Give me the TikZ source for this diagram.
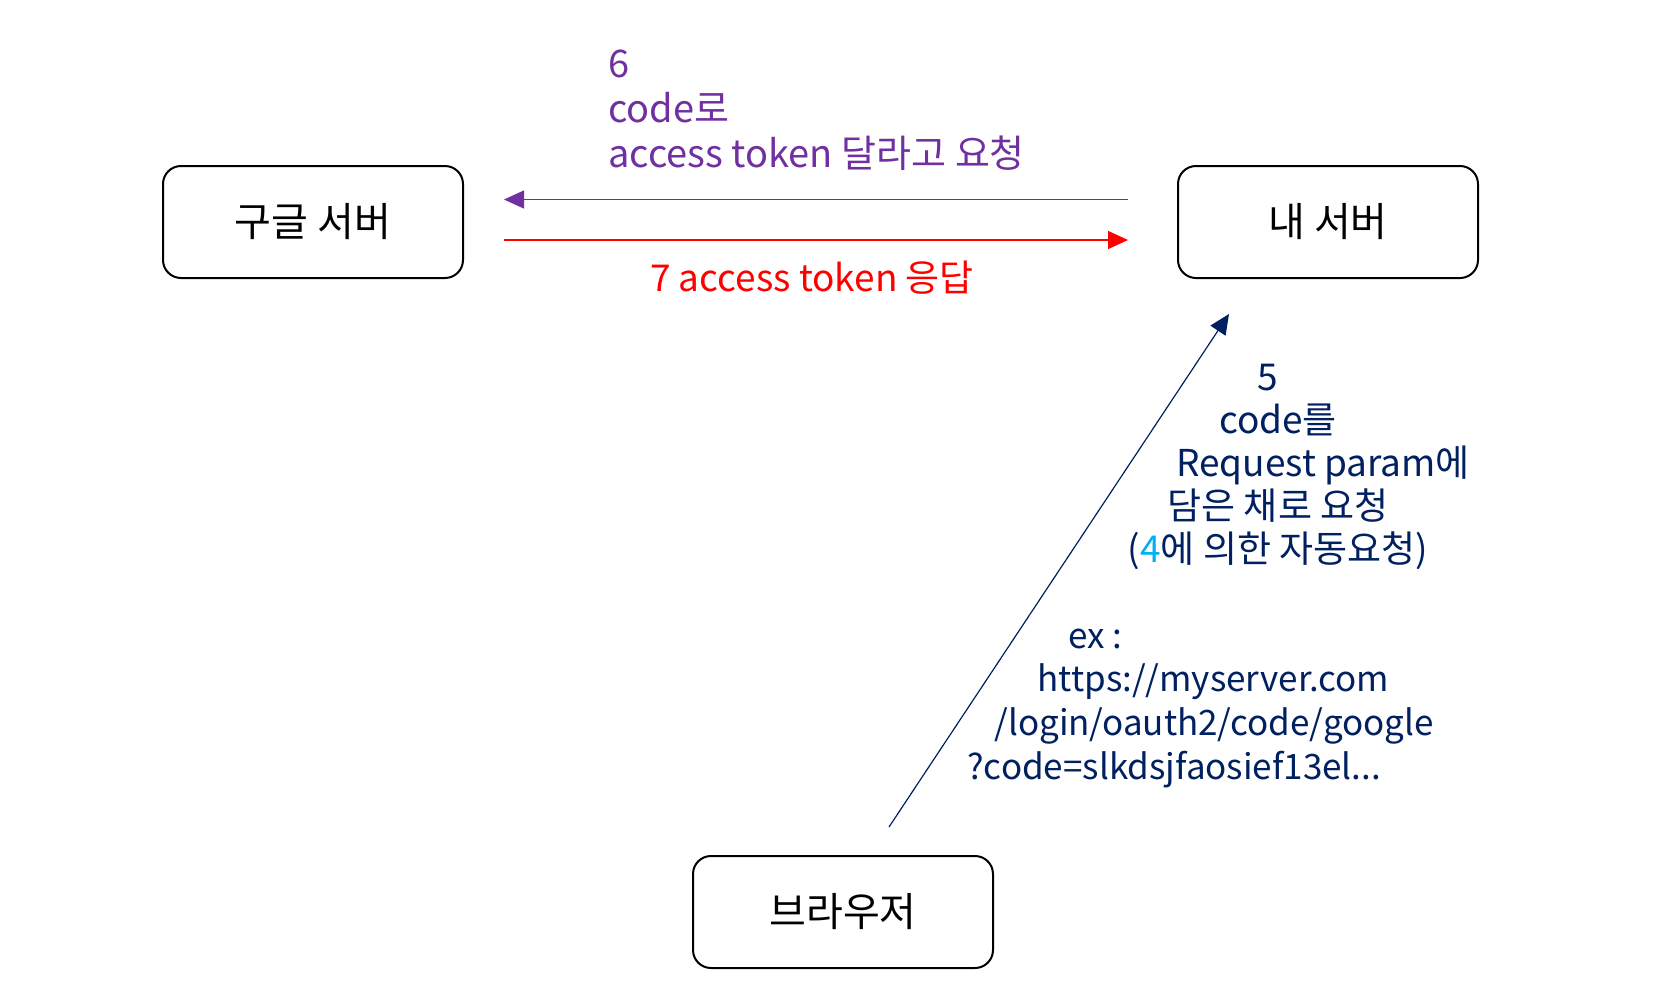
\documentclass[tikz,border=0pt]{standalone}
\usepackage{fontspec}
\setmainfont{Noto Sans CJK KR}
\usetikzlibrary{arrows.meta,positioning}
\definecolor{reqpurple}{HTML}{7030A0}
\definecolor{resred}{HTML}{FF0000}
\definecolor{navy}{HTML}{002060}
\definecolor{skyblue}{HTML}{00B0F0}
\tikzstyle{serverbox}=[rectangle,draw,rounded corners=9pt,line width=1pt,minimum width=150pt,minimum height=56pt,font=\fontsize{20}{24}\selectfont]
\tikzstyle{flowarrow}=[line width=0.6pt,-{Triangle[length=10pt,width=9pt]}]
\tikzstyle{steplabel}=[font=\fontsize{18.5}{21.5}\selectfont,inner sep=0]
\newcommand{\servernode}[3]{\node[serverbox] (#1) at (#2) {#3};}

\begin{document}
\begin{tikzpicture}[x=0.5pt,y=-0.5pt]
\useasboundingbox (0,0) rectangle (1667,1003);
\servernode{google}{313,222}{구글 서버}
\servernode{mine}{1328,222}{내 서버}
\servernode{browser}{843,912}{브라우저}

% 6, 7 between the servers
\draw[flowarrow,reqpurple] ([xshift=-24.5pt,yshift=11.25pt]mine.west) -- ([xshift=20pt,yshift=11.25pt]google.east);
\draw[flowarrow,resred] ([xshift=20pt,yshift=-9pt]google.east) -- ([xshift=-24.5pt,yshift=-9pt]mine.west);
\node[steplabel,reqpurple,align=left,anchor=base west,font=\fontsize{19}{22.5}\selectfont] (req6) at (608,167) {6\\code로\\access token 달라고 요청};
\node[steplabel,resred,anchor=base] (res7) at (812,291) {7 access token 응답};

% 5 from the browser
\coordinate (from5) at ([xshift=23pt,yshift=14pt]browser.north);
\coordinate (to5) at ([xshift=-49.5pt,yshift=-17.5pt]mine.south);
\draw[flowarrow,navy] (from5) -- (to5);
\node[steplabel,navy,align=center,anchor=base] (req5) at (1278,562) {5\hspace*{10pt}\\code를\\\hspace*{45pt}Request param에\\담은 채로 요청\\(\textcolor{skyblue}{4}에 의한 자동요청)};
\node[steplabel,navy,align=left,anchor=base west,font=\fontsize{17.5}{21.8}\selectfont] (url5) at (967,779) {\hspace*{50.5pt}ex :\\\hspace*{35pt}https://myserver.com\\\hspace*{13.5pt}/login/oauth2/code/google\\?code=slkdsjfaosief13el...};
\end{tikzpicture}
\end{document}
